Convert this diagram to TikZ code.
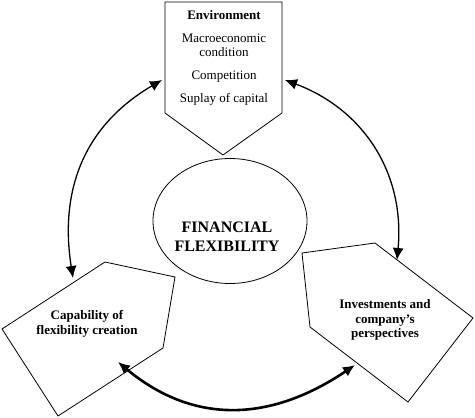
\documentclass[tikz,border=0pt]{standalone}
\usepackage{fontspec}
\setmainfont{Liberation Serif}
\usetikzlibrary{shapes, arrows, arrows.meta}

\begin{document}
\begin{tikzpicture}[x=1pt, y=-1pt,
    >={Latex[length=12pt,width=11pt]},   %Pfeilspitzen
    penta/.style={draw, line width=0.8pt, line join=miter},
    link/.style={<->, line width=1.3pt},
    txt/.style={font=\fontsize{13}{14}\selectfont, align=center, inner sep=0pt},
    boldtxt/.style={font=\fontsize{13}{14.5}\selectfont\bfseries, align=center, inner sep=0pt},
    bigtxt/.style={font=\fontsize{16}{19}\selectfont\bfseries, align=center, inner sep=0pt}]
  \useasboundingbox (0,0) rectangle (475,418);
  % Ellipse in der Mitte
  \node[ellipse, draw, line width=0.8pt, minimum width=154pt, minimum height=125pt, inner sep=0pt] (fin) at (230,221) {};
  \node[bigtxt] (fintxt) at (227,237) {FINANCIAL\\FLEXIBILITY};
  % Fuenfecke zeichnen
  \draw[penta] (165,2) -- (282,2) -- (282,113) -- (223,155) -- (165,113) -- cycle;
  \draw[penta] (105,262) -- (175,277) -- (163,348) -- (58,416) -- (2,329) -- cycle;
  \draw[penta] (302,253) -- (375,243) -- (473,318) -- (408,402) -- (310,327) -- cycle;
  % Beschriftung
  \node[txt, anchor=north] (env) at (224,10) {\textbf{Environment}\\[9pt]Macroeconomic\\condition\\[9pt]Competition\\[9pt]Suplay of capital};
  \node[boldtxt] (cap) at (87,324) {Capability of\\flexibility creation};
  \node[boldtxt] (inv) at (385,320) {Investments and\\company's\\perspectives};
  % Endpunkte der Pfeile
  \coordinate (capTop) at (73,278);
  \coordinate (envLeft) at (162,80);
  \coordinate (envRight) at (285,80);
  \coordinate (invTop) at (397,260);
  \coordinate (capLow) at (118,362);
  \coordinate (invLow) at (355,365);
  % Pfeile zeichnen
  \draw[link] (capTop) .. controls (59,189) and (85,125) .. (envLeft);
  \draw[link] (envRight) .. controls (365,110) and (405,175) .. (invTop);
  \draw[link, line width=2.6pt] (capLow) .. controls (195,426) and (272,421) .. (invLow);
\end{tikzpicture}
\end{document}
